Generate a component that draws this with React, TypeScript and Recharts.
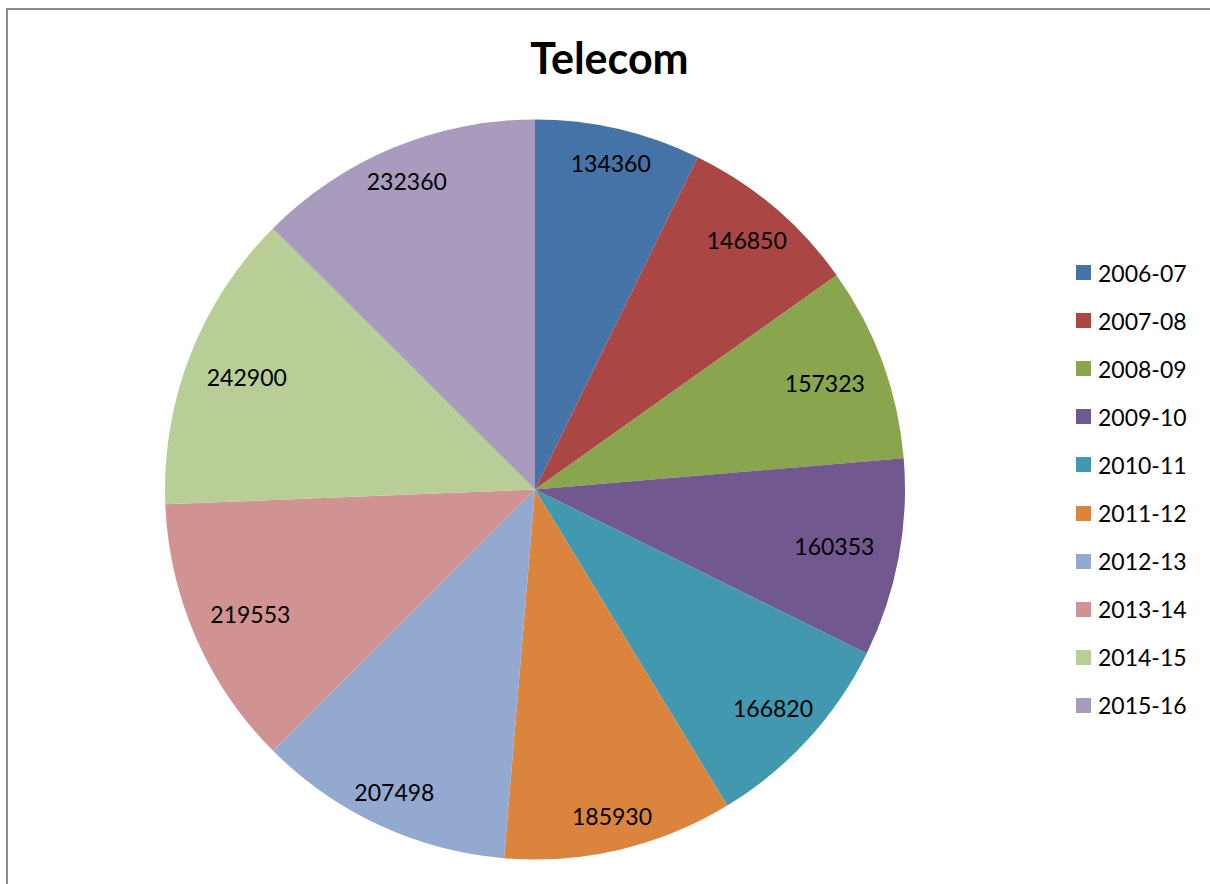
import { Legend, Pie, PieChart, Cell } from "recharts";

const years = [
  "2006-07",
  "2007-08",
  "2008-09",
  "2009-10",
  "2010-11",
  "2011-12",
  "2012-13",
  "2013-14",
  "2014-15",
  "2015-16",
];

const telecom = [
  134360, 146850, 157323, 160353, 166820, 185930, 207498, 219553, 242900, 232360,
];

const colors = [
  "#4572A7",
  "#AA4643",
  "#89A54E",
  "#71588F",
  "#4198AF",
  "#DB843D",
  "#93A9CF",
  "#D19392",
  "#B9CD96",
  "#A99BBD",
];

const data = years.map((name, i) => ({ name, value: telecom[i] }));

const FONT = "Lato, 'Open Sans', sans-serif";
const RAD = Math.PI / 180;

// excel-ish "inside end" labels: pulled in further on the sides where the text is wide
function renderLabel(props: any) {
  const { cx, cy, midAngle, outerRadius, value } = props;
  const c = Math.cos(-midAngle * RAD);
  const s = Math.sin(-midAngle * RAD);
  const d = outerRadius - (34 + 33 * Math.pow(Math.abs(c), 3));
  return (
    <text
      x={cx + d * c}
      y={cy + d * s}
      textAnchor="middle"
      dominantBaseline="central"
      fill="#000"
      fontSize={23}
      fontFamily={FONT}
    >
      {value}
    </text>
  );
}

function LegendBox() {
  return (
    <div style={{ fontFamily: FONT, fontSize: 23, color: "#000" }}>
      {years.map((y, i) => (
        <div key={y} style={{ height: 48.1, display: "flex", alignItems: "center" }}>
          <span
            style={{
              width: 15,
              height: 15,
              background: colors[i],
              display: "inline-block",
              marginRight: 7,
            }}
          />
          <span>{y}</span>
        </div>
      ))}
    </div>
  );
}

export default function App() {
  return (
    <div
      style={{
        position: "absolute",
        left: 0,
        top: 0,
        width: 1210,
        height: 884,
        overflow: "hidden",
        background: "#fff",
      }}
    >
      <div
        style={{
          position: "absolute",
          left: 6,
          top: 8,
          width: 1400,
          height: 1100,
          borderLeft: "2px solid #8a8a8a",
          borderTop: "2px solid #8a8a8a",
        }}
      />
      <div
        style={{
          position: "absolute",
          left: 0,
          width: 1219,
          top: 36,
          textAlign: "center",
          fontFamily: FONT,
          fontWeight: 700,
          fontSize: 43,
          lineHeight: 1,
          color: "#000",
        }}
      >
        Telecom
      </div>
      <div style={{ position: "absolute", left: 0, top: 0 }}>
        <PieChart width={1210} height={884} margin={{ top: 0, right: 0, bottom: 0, left: 0 }}>
          <Pie
            data={data}
            dataKey="value"
            nameKey="name"
            cx={535}
            cy={489.5}
            outerRadius={370}
            startAngle={90}
            endAngle={-270}
            stroke="none"
            labelLine={false}
            label={renderLabel}
            isAnimationActive={false}
          >
            {data.map((d, i) => (
              <Cell key={d.name} fill={colors[i]} />
            ))}
          </Pie>
          <Legend
            content={() => <LegendBox />}
            wrapperStyle={{ position: "absolute", left: 1076, top: 248.5, width: 130 }}
          />
        </PieChart>
      </div>
    </div>
  );
}
